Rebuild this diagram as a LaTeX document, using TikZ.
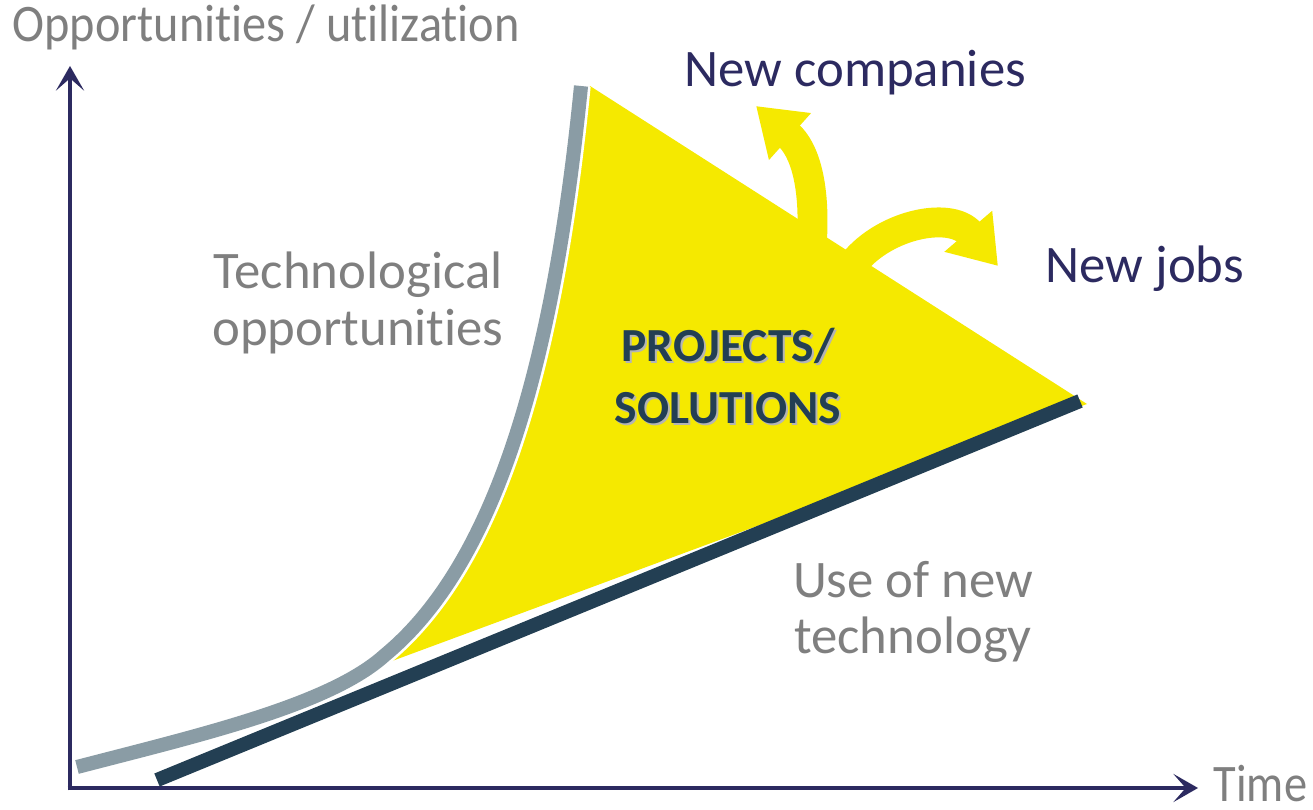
\documentclass[tikz,border=0pt]{standalone}
\usepackage{fontspec}
\setmainfont{Carlito}[RawFeature={-liga;-clig;-dlig;-calt}]
\usetikzlibrary{arrows.meta,positioning}

\definecolor{axisblue}{HTML}{2C2A60}
\definecolor{labelgray}{HTML}{7F7F7F}
\definecolor{techgray}{HTML}{8A9CA5}
\definecolor{usedark}{HTML}{233F53}
\definecolor{solyellow}{HTML}{F5E900}
\definecolor{shadowgray}{HTML}{B4B4B4}

\newcommand{\narrowtext}[2][0.88]{\scalebox{#1}[1]{#2}}

\begin{document}
\begin{tikzpicture}[x=0.01cm,y=-0.01cm,
    axis/.style={draw=axisblue, line width=1.4pt, -{Stealth[length=7pt,width=8pt,inset=3.5pt]}},
    lbl/.style={text=labelgray, font=\fontsize{15}{16}\selectfont, inner sep=0pt, align=center},
    newthing/.style={text=axisblue, font=\fontsize{15}{16}\selectfont, inner sep=0pt},
    soltext/.style={font=\fontsize{13.5}{17.6}\selectfont\bfseries, inner sep=0pt, align=center},
    techline/.style={draw=techgray, line width=4pt, preaction={draw=white, line width=5.5pt}},
    spread/.style={draw=solyellow, line width=8.5pt, -{Triangle[length=13pt,width=17pt]}}]
    \useasboundingbox (0,0) rectangle (1313,810);

    % axes
    \coordinate (o) at (70,788);
    \coordinate (ytop) at (70,66);
    \coordinate (xend) at (1198,788);
    \draw[axis] ([yshift=-0.7pt]o) -- (ytop);
    \draw[axis] ([xshift=-0.7pt]o) -- (xend);

    % projects area
    \fill[solyellow] (590,86) -- (1087,404) -- (384,664) .. controls (500,562) and (560,350) .. (590,86) -- cycle;

    % use of new technology
    \coordinate (use0) at (157,780);
    \coordinate (use1) at (1080,401);
    \draw[usedark, line width=4pt] (use0) -- (use1);

    % technological opportunities
    \coordinate (tech0) at (77,767);
    \coordinate (techm) at (385,655);
    \coordinate (tech1) at (581,86);
    \draw[techline] (tech0) .. controls (200,735) and (330,705) .. (techm) .. controls (500,560) and (555,350) .. (tech1);

    % spin-offs
    \draw[spread] (812,240) .. controls (815,185) and (805,150) .. (756,106);
    \draw[spread] (850,268) .. controls (880,225) and (950,210) .. (998,266);

    % labels
    \node[lbl, anchor=base west] (ylbl) at (12,42) {\narrowtext[0.915]{Opportunities / utilization}};
    \node[lbl, anchor=base west] (tlbl) at (1213,801) {\narrowtext{Time}};
    \node[newthing, anchor=base west] (newcomp) at (684,87) {New companies};
    \node[newthing, anchor=base west] (newjobs) at (1045,283) {New jobs};
    \node[lbl] (techlbl) at (358,303) {Technological\\opportunities};
    \node[lbl] (uselbl) at (913,612) {Use of new\\technology};
    \node[soltext, text=shadowgray] (solshadow) at (730,378) {PROJECTS/\\SOLUTIONS};
    \node[soltext, text=usedark] (sol) at (728,376) {PROJECTS/\\SOLUTIONS};
\end{tikzpicture}
\end{document}
